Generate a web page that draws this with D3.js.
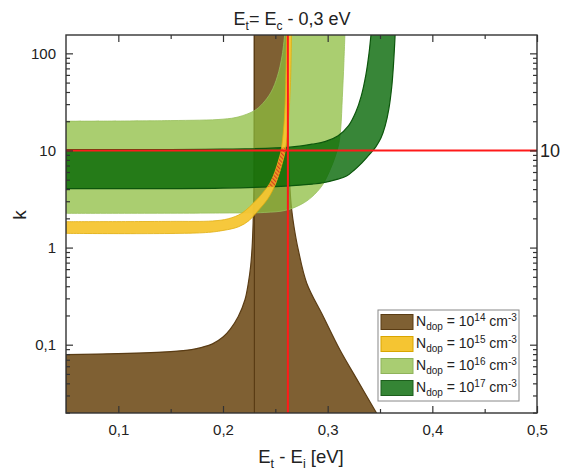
<!DOCTYPE html>
<html>
<head>
<meta charset="utf-8">
<script src="https://cdn.jsdelivr.net/npm/d3@7"></script>
<style>
  body { margin: 0; background: #fff; }
  text { font-family: "Liberation Sans", Arial, sans-serif; }
</style>
</head>
<body>
<div id="chart"></div>
<script>
// band edges, [E_t - E_i (eV), k]
const brownLeft = [[0.05,0.079],[0.10,0.081],[0.15,0.085],[0.17,0.089],[0.18,0.094],[0.19,0.102],[0.20,0.12],
  [0.207,0.145],[0.2146,0.195],[0.221,0.29],[0.2242,0.43],[0.2264,0.64],[0.2278,1.0],[0.2288,1.8],
  [0.2295,4],[0.2298,15],[0.2299,160]];
const brownRight = [[0.262,160],[0.2622,30],[0.2628,8],[0.264,4],[0.2655,2.5],[0.268,1.6],[0.2719,0.95],
  [0.28,0.43],[0.2958,0.195],[0.3118,0.088],[0.3274,0.045],[0.347,0.0195]];
const yellowUpper = [[0.05,1.85],[0.15,1.86],[0.19,1.88],[0.205,1.98],[0.218,2.26],[0.232,3.1],[0.24,3.9],
  [0.2448,4.6],[0.25,6.2],[0.2535,8.2],[0.2555,10],[0.2585,20],[0.2600,50],[0.2608,160]];
const yellowLower = [[0.05,1.40],[0.18,1.42],[0.20,1.5],[0.215,1.64],[0.225,1.9],[0.2325,2.33],[0.243,3.2],
  [0.2505,4.6],[0.256,7],[0.2595,10],[0.2625,20],[0.2645,50],[0.2655,160]];
const lgreenUpper = [[0.05,20],[0.15,20.3],[0.20,21],[0.215,22.2],[0.23,25.7],[0.238,30.5],[0.246,40],
  [0.252,58],[0.2565,95],[0.259,160]];
const lgreenLower = [[0.05,2.25],[0.20,2.27],[0.24,2.3],[0.26,2.42],[0.275,2.8],[0.285,3.33],[0.295,4.4],
  [0.302,6.2],[0.307,8.5],[0.3105,11.5],[0.3125,17],[0.314,35],[0.3155,80],[0.3165,160]];
const dgreenUpper = [[0.05,10.2],[0.20,10.3],[0.264,10.8],[0.285,11.6],[0.298,12.4],[0.31,14.2],[0.32,18],
  [0.327,25],[0.332,36],[0.3365,60],[0.3395,100],[0.3415,160]];
const dgreenLower = [[0.05,4.05],[0.20,4.1],[0.26,4.3],[0.285,4.5],[0.2958,4.65],[0.308,5.0],[0.318,5.45],
  [0.3255,6.3],[0.3325,7.4],[0.3404,9.2],[0.346,10.9],[0.351,13.5],[0.355,18],[0.3585,27],[0.3612,45],
  [0.363,80],[0.3645,160]];

const brownLineX = 0.23;
const redX = 0.262;
const redK = 10;

const xMajor = [0.1, 0.2, 0.3, 0.4, 0.5];
const xMinor = [0.15, 0.25, 0.35, 0.45];
const yMajor = [0.1, 1, 10, 100];
const legendExp = ["14", "15", "16", "17"];
const legendFill = ["#7f6033", "#f5c532", "#a9cd72", "#358535"];
const legendStroke = ["#5a3c14", "#d9a500", "#8fb35a", "#1d5e1d"];

const width = 576, height = 473;
const plotL = 66, plotR = 537, plotT = 35, plotB = 413;

const svg = d3.select("#chart").append("svg")
    .attr("width", width)
    .attr("height", height);

const x = d3.scaleLinear().domain([0.05, 0.5]).range([plotL, plotR]);
const y = d3.scaleLog().domain([0.0198, 154.5]).range([plotB, plotT]);

const fmt = d => String(d).replace(".", ",");

const defs = svg.append("defs");
defs.append("clipPath").attr("id", "plot")
    .append("rect").attr("x", plotL).attr("y", plotT).attr("width", plotR - plotL).attr("height", plotB - plotT);

const pat = defs.append("pattern").attr("id", "hatch")
    .attr("patternUnits", "userSpaceOnUse")
    .attr("width", 3).attr("height", 3)
    .attr("patternTransform", "rotate(-45)");
pat.append("rect").attr("width", 3).attr("height", 3).attr("fill", "#eea626");
pat.append("rect").attr("width", 1.3).attr("height", 3).attr("fill", "#d9441c");

const line = d3.line()
    .x(d => x(d[0]))
    .y(d => y(d[1]))
    .curve(d3.curveCatmullRom.alpha(0.5));

// closed band: upper edge left->right, then lower edge back
function band(upper, lower) {
    return line(upper) + "L" + line(lower.slice().reverse()).slice(1) + "Z";
}

const g = svg.append("g").attr("clip-path", "url(#plot)");

// 10^14: brown
g.append("path")
    .attr("d", line(brownLeft) + "L" + line(brownRight).slice(1) +
        "L" + x(0.05) + "," + y(0.0195) + "Z")
    .attr("fill", "#7f6033")
    .attr("stroke", "#5a3c14")
    .attr("stroke-width", 1.2);
g.append("line")
    .attr("x1", x(brownLineX)).attr("x2", x(brownLineX))
    .attr("y1", plotB).attr("y2", plotT)
    .attr("stroke", "#5a3c14").attr("stroke-width", 1.2);

// 10^16: light green
g.append("path")
    .attr("d", band(lgreenUpper, lgreenLower))
    .attr("fill", "rgb(140,189,62)")
    .attr("fill-opacity", 0.74)
    .attr("stroke", "#98bf5c")
    .attr("stroke-width", 0.8);

// 10^17: dark green
g.append("path")
    .attr("d", band(dgreenUpper, dgreenLower))
    .attr("fill", "rgb(0,100,0)")
    .attr("fill-opacity", 0.78)
    .attr("stroke", "#0c560c")
    .attr("stroke-width", 1.2);

// 10^15: yellow
const yellowPath = band(yellowUpper, yellowLower);
g.append("path")
    .attr("d", yellowPath)
    .attr("fill", "#f5c532")
    .attr("fill-opacity", 0.95)
    .attr("stroke", "#e0ad10")
    .attr("stroke-width", 0.8);

// overlap of yellow and dark green is hatched
defs.append("clipPath").attr("id", "dgclip")
    .append("path").attr("d", band(dgreenUpper, dgreenLower));
g.append("g").attr("clip-path", "url(#dgclip)")
    .append("path")
    .attr("d", yellowPath)
    .attr("fill", "url(#hatch)");

// red guide lines
g.append("line")
    .attr("x1", x(redX)).attr("x2", x(redX))
    .attr("y1", plotB).attr("y2", plotT)
    .attr("stroke", "#ff1a1a").attr("stroke-width", 2);
g.append("line")
    .attr("x1", plotL).attr("x2", plotR)
    .attr("y1", y(redK)).attr("y2", y(redK))
    .attr("stroke", "#ff1a1a").attr("stroke-width", 2);

// axes, ticks pointing inwards
function styleAxis(sel) {
    sel.select(".domain").remove();
    sel.selectAll(".tick line").attr("stroke", "#333").attr("stroke-width", 1.2);
    sel.selectAll(".tick text").attr("font-size", 15).attr("fill", "#222")
        .attr("font-family", "\"Liberation Sans\", Arial, sans-serif");
}

const yMinor = y.ticks().filter(v => yMajor.indexOf(v) < 0 && Math.abs(Math.log10(v) % 1) > 1e-6);

svg.append("g").attr("transform", `translate(0,${plotB})`)
    .call(d3.axisBottom(x).tickValues(xMajor).tickSize(-7).tickSizeOuter(0).tickPadding(11).tickFormat(fmt))
    .call(styleAxis);
svg.append("g").attr("transform", `translate(0,${plotB})`)
    .call(d3.axisBottom(x).tickValues(xMinor).tickSize(-4).tickSizeOuter(0).tickFormat(""))
    .call(styleAxis);
svg.append("g").attr("transform", `translate(0,${plotT})`)
    .call(d3.axisTop(x).tickValues(xMajor).tickSize(-7).tickSizeOuter(0).tickFormat(""))
    .call(styleAxis);
svg.append("g").attr("transform", `translate(0,${plotT})`)
    .call(d3.axisTop(x).tickValues(xMinor).tickSize(-4).tickSizeOuter(0).tickFormat(""))
    .call(styleAxis);

svg.append("g").attr("transform", `translate(${plotL},0)`)
    .call(d3.axisLeft(y).tickValues(yMajor).tickSize(-7).tickSizeOuter(0).tickPadding(10).tickFormat(fmt))
    .call(styleAxis);
svg.append("g").attr("transform", `translate(${plotL},0)`)
    .call(d3.axisLeft(y).tickValues(yMinor).tickSize(-4).tickSizeOuter(0).tickFormat(""))
    .call(styleAxis);
svg.append("g").attr("transform", `translate(${plotR},0)`)
    .call(d3.axisRight(y).tickValues(yMajor).tickSize(-7).tickSizeOuter(0).tickFormat(""))
    .call(styleAxis);
svg.append("g").attr("transform", `translate(${plotR},0)`)
    .call(d3.axisRight(y).tickValues(yMinor).tickSize(-4).tickSizeOuter(0).tickFormat(""))
    .call(styleAxis);

svg.append("rect")
    .attr("x", plotL).attr("y", plotT)
    .attr("width", plotR - plotL).attr("height", plotB - plotT)
    .attr("fill", "none").attr("stroke", "#333").attr("stroke-width", 1.4);

// label of the red line on the right
svg.append("text")
    .attr("x", plotR + 3).attr("y", y(redK) + 7)
    .attr("font-size", 18).attr("fill", "#222")
    .text(fmt(redK));

// title
const title = svg.append("text")
    .attr("x", 292).attr("y", 25)
    .attr("text-anchor", "middle")
    .attr("font-size", 18).attr("fill", "#222");
title.append("tspan").text("E");
title.append("tspan").attr("dy", 5).attr("font-size", 12).text("t");
title.append("tspan").attr("dy", -5).text("= E");
title.append("tspan").attr("dy", 5).attr("font-size", 12).text("c");
title.append("tspan").attr("dy", -5).text(" - 0,3 eV");

// x label
const xl = svg.append("text")
    .attr("x", 301).attr("y", 463)
    .attr("text-anchor", "middle")
    .attr("font-size", 18.5).attr("fill", "#222");
xl.append("tspan").text("E");
xl.append("tspan").attr("dy", 5).attr("font-size", 12.5).text("t");
xl.append("tspan").attr("dy", -5).text(" - E");
xl.append("tspan").attr("dy", 5).attr("font-size", 12.5).text("i");
xl.append("tspan").attr("dy", -5).text(" [eV]");

// y label
svg.append("text")
    .attr("transform", "translate(26,215) rotate(-90)")
    .attr("text-anchor", "middle")
    .attr("font-size", 19).attr("fill", "#222")
    .text("k");

// legend
const lg = svg.append("g").attr("transform", "translate(378,310)");
lg.append("rect")
    .attr("width", 141).attr("height", 91)
    .attr("fill", "#fff").attr("stroke", "#888").attr("stroke-width", 1);

const items = lg.selectAll(".item")
    .data(legendExp)
    .enter().append("g")
    .attr("class", "item")
    .attr("transform", (d, i) => `translate(0,${12 + i * 22})`);

items.append("rect")
    .attr("x", 3).attr("y", -7.5)
    .attr("width", 32).attr("height", 15)
    .attr("fill", (d, i) => legendFill[i])
    .attr("stroke", (d, i) => legendStroke[i])
    .attr("stroke-width", 1);

const lt = items.append("text")
    .attr("x", 38).attr("y", 4)
    .attr("font-size", 14).attr("fill", "#222");
lt.append("tspan").text("N");
lt.append("tspan").attr("dy", 4).attr("font-size", 10).text("dop");
lt.append("tspan").attr("dy", -4).text(" = 10");
lt.append("tspan").attr("dy", -5).attr("font-size", 10).text(d => d);
lt.append("tspan").attr("dy", 5).text(" cm");
lt.append("tspan").attr("dy", -5).attr("font-size", 10).text("-3");
</script>
</body>
</html>
